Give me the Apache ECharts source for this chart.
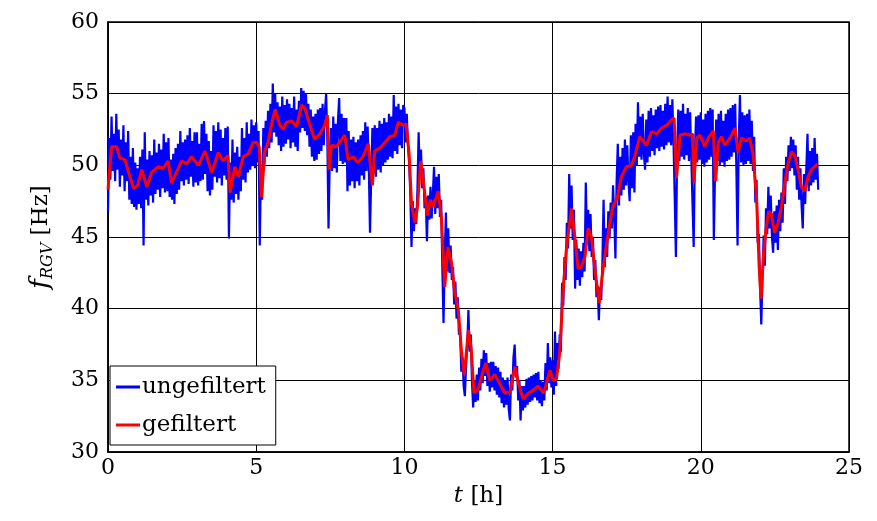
<!DOCTYPE html>
<html><head><meta charset="utf-8">
<script src="https://cdn.jsdelivr.net/npm/echarts@6/dist/echarts.min.js"></script>
<style>html,body{margin:0;padding:0;background:#fff}#c{width:877px;height:521px}</style>
</head><body><div id="c"></div>
<script>
// sample spacing of the raw signal (hours)
const blueStep = 0.04;
// raw (unfiltered) signal, 25 samples per hour
const blueH00 = [46.8,51.9,49.0,53.4,49.6,52.2,48.9,53.6,49.7,52.5,48.5,51.8,49.3,52.8,48.2,51.6,48.9,52.4,47.6,50.6,47.3,51.2,47.1,50.2,46.9];
const blueH01 = [49.8,47.3,50.6,47.0,51.1,44.4,52.3,47.6,50.4,47.2,51.0,47.9,50.7,47.4,51.8,48.0,50.9,48.3,51.5,47.8,51.1,48.4,52.2,48.1,51.6];
const blueH02 = [48.2,51.9,47.8,50.4,47.6,50.8,47.3,51.2,48.0,51.5,48.3,52.4,48.9,51.6,48.6,51.8,49.0,52.1,48.7,52.6,49.2,51.7,48.5,52.3,48.8];
const blueH03 = [52.3,48.6,51.5,48.9,52.9,49.0,53.1,49.4,52.2,48.2,51.7,47.9,51.0,48.3,52.8,49.2,52.4,48.8,53.0,49.1,52.5,48.6,51.9,49.3,52.6];
const blueH04 = [49.0,52.7,44.9,50.2,47.6,51.8,47.4,50.9,48.0,51.3,47.6,50.6,48.2,52.6,49.0,51.9,48.8,53.0,49.5,52.2,49.7,53.2,50.0,52.8,49.8];
const blueH05 = [53.0,50.2,52.4,44.4,49.8,47.6,52.6,50.1,53.1,50.6,53.8,51.2,54.3,51.6,55.7,52.3,55.0,52.0,54.4,51.4,54.1,51.0,54.8,51.3,54.2];
const blueH06 = [51.5,54.6,51.8,54.3,51.2,54.0,51.6,54.8,51.3,53.9,51.0,54.5,52.3,55.4,52.6,55.2,52.4,55.0,52.1,54.3,51.3,53.9,50.6,53.4,50.3];
const blueH07 = [53.6,50.4,53.9,50.8,54.0,51.0,54.3,51.4,53.8,55.0,51.8,45.6,50.2,52.6,49.6,53.4,49.8,52.9,49.5,53.2,54.7,50.3,53.6,50.1,53.3];
const blueH08 = [50.2,53.3,48.2,52.4,48.6,51.8,48.9,52.0,48.4,51.6,48.9,51.8,48.6,52.1,49.3,52.4,49.0,53.0,49.6,52.7,49.8,45.3,49.2,52.6,49.4];
const blueH09 = [52.8,49.2,52.6,49.7,53.1,49.5,52.9,50.0,53.3,50.2,53.0,50.4,53.6,50.6,53.4,50.5,54.9,51.0,54.1,50.8,54.3,51.4,53.9,51.2,54.2];
const blueH10 = [54.0,51.6,53.6,51.4,50.2,48.0,44.3,47.5,45.4,47.0,45.9,48.3,52.3,49.2,51.1,48.4,49.8,47.0,47.8,44.7,47.9,46.2,48.5,46.3,48.0];
const blueH11 = [49.9,46.6,49.2,47.0,49.4,46.4,47.6,42.8,39.0,43.5,46.7,42.6,45.6,42.5,44.4,42.0,42.9,40.3,41.9,39.3,40.8,38.2,38.4,35.6,36.6];
const blueH12 = [34.6,33.9,36.0,37.4,39.9,37.0,38.2,34.9,33.1,35.0,33.5,35.4,33.6,35.9,34.3,36.5,34.8,37.1,35.3,36.9,34.6,36.2,34.2,36.3,34.5];
const blueH13 = [36.3,34.3,36.0,34.0,35.9,33.8,35.6,33.4,35.2,33.1,35.0,33.3,35.2,33.0,32.2,35.4,34.3,36.6,37.5,35.2,36.0,33.6,35.0,32.2,34.6];
const blueH14 = [32.9,34.6,33.1,35.1,33.3,35.2,33.5,35.3,33.6,35.4,33.8,35.5,33.6,35.6,33.4,35.0,33.2,34.9,33.6,36.2,34.3,37.6,34.8,36.6,34.5];
const blueH15 = [36.4,34.0,38.4,34.6,37.6,35.8,38.2,37.0,41.8,40.2,43.6,42.0,46.0,44.2,49.4,45.6,48.6,44.8,46.9,41.4,44.8,42.0,44.2,41.6,44.0];
const blueH16 = [42.2,44.6,42.6,48.8,44.6,46.9,44.0,46.6,43.6,45.0,42.0,43.4,40.8,41.6,39.2,41.5,40.6,43.2,47.6,42.9,45.6,43.6,46.8,44.9,47.4];
const blueH17 = [45.6,48.6,46.4,43.5,48.9,51.5,47.2,50.6,47.9,51.2,48.3,51.8,48.6,51.4,48.9,47.5,52.1,48.4,52.3,48.1,52.9,50.0,54.4,50.6,53.4];
const blueH18 = [50.4,53.6,50.8,49.7,53.2,50.2,53.8,50.6,54.0,51.0,53.5,50.7,53.9,51.2,54.1,51.0,54.2,51.3,53.8,51.1,54.3,51.4,54.8,51.6,54.2];
const blueH19 = [51.4,54.6,51.6,47.8,43.6,50.6,53.9,50.3,53.8,50.6,54.3,50.4,53.6,50.7,54.0,50.3,53.7,50.5,47.4,44.3,50.9,53.4,50.2,53.5,50.4];
const blueH20 = [53.7,50.1,53.2,49.9,53.6,50.2,53.8,50.4,54.0,50.6,53.9,44.8,49.6,53.2,50.3,53.6,50.0,53.8,50.2,53.1,49.9,53.6,50.3,53.9,50.4];
const blueH21 = [54.0,50.6,54.2,50.9,54.3,49.8,44.4,51.6,54.9,50.2,53.7,50.0,53.5,50.1,53.6,50.3,53.9,50.1,53.1,49.6,52.0,47.4,49.0,44.6,45.2];
const blueH22 = [41.5,38.9,42.0,45.1,43.0,47.0,45.2,48.5,45.6,47.9,45.0,43.9,46.8,44.6,47.2,44.1,47.6,45.4,48.1,46.0,49.8,47.3,50.6,48.9,51.4];
const blueH23 = [49.6,52.0,49.8,51.8,49.3,51.4,48.3,50.6,47.6,49.8,47.2,45.6,49.4,47.3,49.8,52.2,48.2,51.0,48.6,51.2,48.8,51.9,49.0,50.8,48.3];

// filtered signal
const redTimes = [0,0.12,0.29,0.4,0.57,0.74,0.86,1.0,1.14,1.31,1.47,1.7,1.86,2.03,2.14,2.31,2.48,2.65,2.82,3.05,3.27,3.5,3.72,3.88,4.05,4.12,4.28,4.4,4.56,4.73,4.9,
  5.01,5.1,5.18,5.29,5.4,5.52,5.64,5.8,5.91,6.02,6.19,6.36,6.53,6.64,6.8,6.97,7.15,7.31,7.4,7.46,7.54,7.71,7.88,7.99,8.1,8.27,8.43,8.6,8.78,8.92,9.0,9.17,9.34,9.51,9.68,9.79,9.96,10.06,
  10.16,10.24,10.36,10.44,10.55,10.64,10.77,10.88,10.97,11.14,11.25,11.36,11.47,11.59,11.7,11.82,11.93,12.02,12.16,12.25,12.35,12.49,12.66,12.75,12.88,13.05,13.21,13.39,13.56,13.73,13.87,14.01,14.18,14.34,14.51,14.7,14.91,15.02,15.13,
  15.24,15.35,15.47,15.64,15.75,15.86,15.97,16.09,16.2,16.31,16.43,16.57,16.71,16.82,16.93,17.04,17.18,17.32,17.49,17.66,17.77,17.94,18.17,18.34,18.51,18.68,18.85,19.02,19.1,19.18,19.3,19.47,19.63,19.72,19.77,19.86,19.97,
  20.02,20.13,20.25,20.42,20.5,20.59,20.7,20.81,20.98,21.15,21.26,21.37,21.54,21.65,21.76,21.88,21.97,22.03,22.12,22.21,22.29,22.38,22.49,22.61,22.72,22.83,22.94,23.06,23.17,23.28,23.39,23.51,23.62,23.73,23.84,23.94];
const redValues = [48.3,51.3,51.3,50.5,50.4,49.2,48.4,48.6,49.7,48.5,49.5,49.9,49.8,50.3,48.8,49.5,50.3,50.1,50.6,50.0,51.0,49.5,50.9,50.3,50.7,48.1,49.9,49.2,50.6,50.8,51.6,
  51.6,51.3,47.8,51.0,51.6,52.9,53.9,52.8,52.5,53.0,53.1,52.7,54.2,54.0,52.9,51.8,52.2,52.8,53.5,49.7,51.4,51.3,51.8,52.1,50.4,50.6,50.2,50.6,51.5,48.6,51.0,51.2,51.6,52.0,52.1,53.0,52.8,52.9,
  50.8,47.3,46.0,47.1,50.3,48.9,46.5,47.6,47.1,48.2,46.3,41.5,44.3,43.2,41.1,39.9,36.9,35.4,38.5,37.3,34.1,34.4,35.7,36.2,35.0,35.4,34.8,34.1,34.2,35.95,34.6,33.7,34.1,34.3,34.6,34.1,35.7,35.0,35.1,
  36.9,41.1,44.3,47.0,45.0,42.8,42.9,43.6,45.6,45.0,42.7,40.4,42.9,44.5,45.95,47.2,47.7,49.2,49.9,50.0,50.6,52.0,51.4,52.35,52.2,52.6,52.8,53.2,53.3,49.1,52.1,52.2,52.1,52.2,48.8,51.9,52.1,
  51.9,51.3,51.9,52.4,48.9,51.6,52.0,51.4,51.9,52.6,50.9,51.9,51.7,51.9,50.8,47.8,42.9,40.7,43.9,45.7,46.8,46.6,45.3,46.0,47.1,48.7,50.1,50.95,50.7,49.7,48.5,48.2,49.2,49.7,49.9,50.1];

const xTicks = [0,5,10,15,20,25];
const yTicks = [30,35,40,45,50,55,60];

const blueValues = [].concat(blueH00,blueH01,blueH02,blueH03,blueH04,blueH05,blueH06,blueH07,blueH08,blueH09,blueH10,blueH11,
  blueH12,blueH13,blueH14,blueH15,blueH16,blueH17,blueH18,blueH19,blueH20,blueH21,blueH22,blueH23);
const blueData = blueValues.map((v,i)=>[+(i*blueStep).toFixed(2), v]);
const redData = redTimes.map((t,i)=>[t, redValues[i]]);

const FONT = 'DejaVu Serif';
const chart = echarts.init(document.getElementById('c'), null, {renderer:'canvas'});
chart.setOption({
  animation:false,
  backgroundColor:'#fff',
  grid:{left:108, right:28, top:22, bottom:69, show:true, borderColor:'#000', borderWidth:1.5, backgroundColor:'transparent'},
  xAxis:{type:'value', min:xTicks[0], max:xTicks[xTicks.length-1], interval:5,
    axisLine:{show:true, lineStyle:{color:'#000', width:1.5}},
    axisTick:{show:true, inside:true, length:5, lineStyle:{color:'#000'}},
    axisLabel:{color:'#000', fontFamily:FONT, fontSize:22, margin:5},
    splitLine:{show:true, lineStyle:{color:'#000', width:1}},
    name:'{i|t} [h]', nameLocation:'middle', nameGap:33,
    nameTextStyle:{color:'#000', fontFamily:FONT, fontSize:23, rich:{i:{fontStyle:'italic', fontFamily:FONT, fontSize:23, color:'#000'}}}
  },
  yAxis:{type:'value', min:yTicks[0], max:yTicks[yTicks.length-1], interval:5,
    axisLine:{show:true, lineStyle:{color:'#000', width:1.5}},
    axisTick:{show:true, inside:true, length:5, lineStyle:{color:'#000'}},
    axisLabel:{color:'#000', fontFamily:FONT, fontSize:22, margin:9},
    splitLine:{show:true, lineStyle:{color:'#000', width:1}},
    name:'{i|f}{s|RGV} [Hz]', nameLocation:'middle', nameGap:52, nameRotate:90,
    nameTextStyle:{color:'#000', fontFamily:FONT, fontSize:23,
      rich:{i:{fontStyle:'italic', fontFamily:FONT, fontSize:26, color:'#000'},
            s:{fontStyle:'italic', fontFamily:FONT, fontSize:16, color:'#000', padding:[14,0,0,0]}}}
  },
  legend:{show:true, orient:'vertical', left:110, top:366, backgroundColor:'#fff', borderColor:'#000', borderWidth:1,
    borderRadius:0, padding:[7,10,6,6], itemGap:10, itemWidth:24, itemHeight:3, icon:'rect',
    textStyle:{color:'#000', fontFamily:FONT, fontSize:23, lineHeight:28, padding:[0,0,0,-3]},
    data:['ungefiltert','gefiltert']},
  series:[
    {name:'ungefiltert', type:'line', data:blueData, showSymbol:false, symbol:'none', color:'#0000ff',
      lineStyle:{color:'#0000ff', width:2.2}, z:2},
    {name:'gefiltert', type:'line', data:redData, showSymbol:false, symbol:'none', color:'#ff0000',
      lineStyle:{color:'#ff0000', width:3}, z:3}
  ]
});
</script></body></html>
